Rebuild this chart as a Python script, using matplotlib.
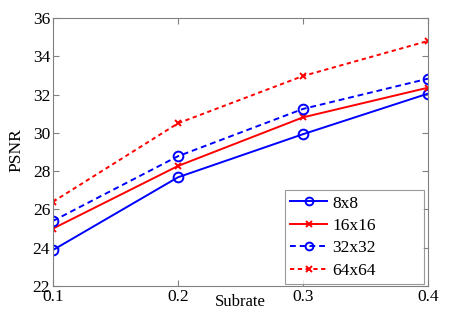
import matplotlib
matplotlib.use("Agg")
import matplotlib.pyplot as plt

plt.rcParams['font.family'] = ['Liberation Serif', 'DejaVu Serif']

subrate = [0.1, 0.2, 0.3, 0.4]
psnr_8 = [23.88, 27.68, 29.93, 32.05]
psnr_16 = [25.0, 28.27, 30.81, 32.36]
psnr_32 = [25.40, 28.78, 31.25, 32.83]
psnr_64 = [26.40, 30.5, 32.97, 34.8]

fig = plt.figure(figsize=(4.59, 3.19), dpi=100)
ax = fig.add_axes([53 / 459, 1 - 286 / 319, 375 / 459, 268 / 319])

ax.plot(subrate, psnr_8, color='blue', linestyle='-', marker='o', markersize=7,
        markerfacecolor='none', markeredgewidth=1.4, linewidth=1.4, label='8x8')
ax.plot(subrate, psnr_16, color='red', linestyle='-', marker='x', markersize=5,
        markeredgewidth=1.4, linewidth=1.4, label='16x16')
ax.plot(subrate, psnr_32, color='blue', linestyle=(0, (3, 2)), marker='o', markersize=7,
        markerfacecolor='none', markeredgewidth=1.4, linewidth=1.4, label='32x32')
ax.plot(subrate, psnr_64, color='red', linestyle=(0, (2.2, 1.8)), marker='x', markersize=5,
        markeredgewidth=1.4, linewidth=1.4, label='64x64')

ax.set_xlim(0.1, 0.4)
ax.set_ylim(22, 36)
ax.set_xticks(subrate)
ax.set_xticklabels(['0.1', '0.2', '0.3', '0.4'])
ax.set_yticks([22, 24, 26, 28, 30, 32, 34, 36])

for s in ax.spines.values():
    s.set_color('#808080')
    s.set_linewidth(0.8)
ax.tick_params(direction='in', top=True, right=True, length=4, color='#808080',
               labelsize=12.5, pad=2)

ax.set_xlabel('Subrate', fontsize=12)
ax.xaxis.set_label_coords(0.5, -0.03)
ax.set_ylabel('PSNR', fontsize=12.5)
ax.yaxis.set_label_coords(-0.075, 0.507)

# legend box placed like the original (wide box, text left aligned)
leg = ax.legend(loc='lower left', bbox_to_anchor=(0.619, 0.0075, 0.371, 0.358),
                mode='expand', fontsize=12.5, frameon=True, fancybox=False,
                borderaxespad=0, handlelength=2.1, handletextpad=0.3,
                labelspacing=0.36, borderpad=0.3, markerscale=0.8)
leg.get_frame().set_edgecolor('#808080')
leg.get_frame().set_linewidth(0.8)

fig.savefig('out.png', dpi=100)
